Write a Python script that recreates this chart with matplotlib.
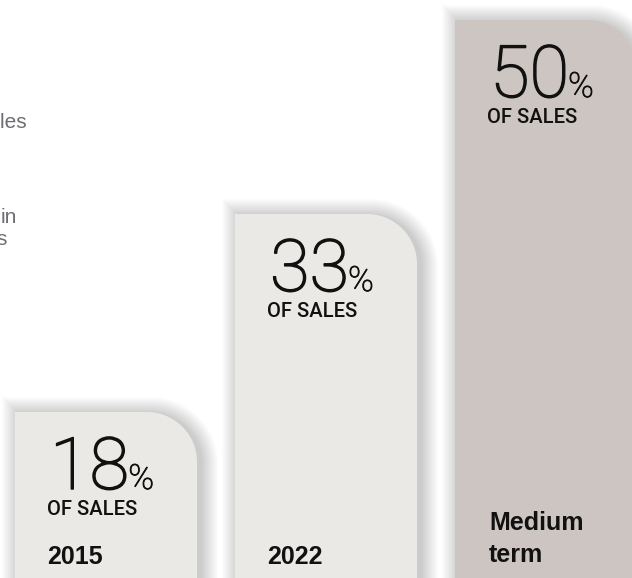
import matplotlib
matplotlib.use("Agg")
import matplotlib.pyplot as plt
import matplotlib.patheffects as pe
from matplotlib.path import Path
from matplotlib.patches import PathPatch

# data
periods = ['2015', '2022', 'Medium\nterm']
shares = [18, 33, 50]
bar_heights = [166, 364, 558]   # px, the bars are not drawn to scale
bar_colors = ['#EAE9E6', '#EAE9E6', '#CDC5C1']
side_words = ['sales', 'in', 's']

W, H = 632, 578
BAR_W = 182
GAP = 38
RADIUS = 50
LEFT0 = 15


def bar_path(x, top, w, bottom, r):
    k = 0.5523 * r
    verts = [(x, bottom), (x, top), (x + w - r, top),
             (x + w - r + k, top), (x + w, top + r - k), (x + w, top + r),
             (x + w, bottom), (x, bottom)]
    codes = [Path.MOVETO, Path.LINETO, Path.LINETO,
             Path.CURVE4, Path.CURVE4, Path.CURVE4,
             Path.LINETO, Path.CLOSEPOLY]
    return Path(verts, codes)


fig = plt.figure(figsize=(W / 100, H / 100), dpi=100)
ax = fig.add_axes([0, 0, 1, 1])
ax.set_xlim(0, W)
ax.set_ylim(H, 0)
ax.axis('off')

# cut-off paragraph on the left
for txt, xr, yb in zip(side_words, [27, 17, 7], [128, 223, 245]):
    ax.text(xr, yb, txt, ha='right', va='baseline',
            fontsize=15, color='#6D6E71', family='Liberation Sans')

thicker = [pe.withStroke(linewidth=1.1, foreground='#111111')]

for i, (lab, v, h, c) in enumerate(zip(periods, shares, bar_heights, bar_colors)):
    x = LEFT0 + i * (BAR_W + GAP)
    top = H - h
    # soft shadow
    for d in range(1, 18):
        sp = bar_path(x - d + 4, top - d + 2, BAR_W + 2 * d, H + 20, RADIUS + d)
        ax.add_patch(PathPatch(sp, facecolor='#000000', edgecolor='none', alpha=0.012))
    ax.add_patch(PathPatch(bar_path(x, top, BAR_W, H + 20, RADIUS),
                           facecolor=c, edgecolor='none'))

    tx = x + 35
    base = top + 77
    t = ax.text(tx, base, str(v), ha='left', va='baseline', fontsize=52,
                family='Roboto', fontweight='light', color='#111111',
                path_effects=thicker)
    fig.canvas.draw()
    bb = t.get_window_extent()
    ax.text(tx + bb.width - 1, base, '%', ha='left', va='baseline', fontsize=25,
            family='Roboto', fontweight='light', color='#111111',
            path_effects=[pe.withStroke(linewidth=0.6, foreground='#111111')])
    ax.text(tx - 3, base + 26, 'OF SALES', ha='left', va='baseline', fontsize=14.5,
            family='Roboto', fontweight='medium', color='#111111')

    if '\n' in lab:
        first, second = lab.split('\n')
        ax.text(x + 34, 530, first, ha='left', va='baseline', fontsize=18,
                family='Liberation Sans', fontweight='bold', color='#111111')
        ax.text(x + 34, 562, second, ha='left', va='baseline', fontsize=18,
                family='Liberation Sans', fontweight='bold', color='#111111')
    else:
        ax.text(x + 32, 564, lab, ha='left', va='baseline', fontsize=18,
                family='Liberation Sans', fontweight='bold', color='#111111')

fig.savefig('out.png', dpi=100, facecolor='white')
